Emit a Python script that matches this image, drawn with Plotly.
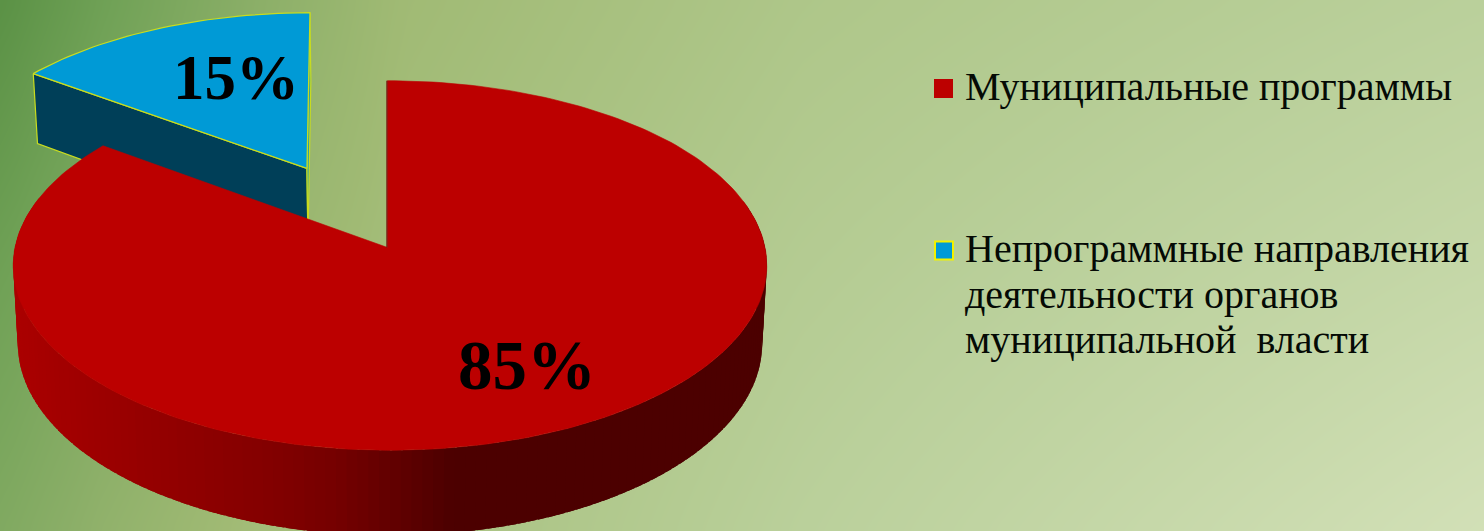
import numpy as np
import plotly.graph_objects as go

# ---- data ----
categories = ["Муниципальные программы", "Непрограммные направления деятельности органов муниципальной  власти"]
legend_lines = [["Муниципальные программы"],
                ["Непрограммные направления", "деятельности органов", "муниципальной  власти"]]
values = [85, 15]
value_labels = ["85%", "15%"]

# ---- style / projection ----
W, H = 1484, 531
CX, CY = 387.5, 247.5
RX, A, K = 375.0, 183.0, 0.0973   # perspective pie projection
DEPTH, SHRINK = 77.0, 0.988
EXPLODE = 0.503
RED, BLUE = "#BC0000", "#009AD6"
BLUE_SIDE = "#003F58"
EDGE = "#C9DC1E"
FONT = "Liberation Serif"


def project(X, Y, bottom=False):
    X, Y = np.asarray(X, float), np.asarray(Y, float)
    s = 1.0 / (1.0 + K * Y)
    px, py = RX * X * s, -A * Y * s
    if bottom:
        return CX + px * SHRINK, CY + py + DEPTH * s
    return CX + px, CY + py


def project_red(X, Y, bottom=False):
    x, y = project(X, Y, bottom)
    r = np.hypot(X, Y)
    # the rim sits slightly right of the apex
    return x + 2.5 * np.clip((1 - np.asarray(Y, float)) / 0.4, 0, 1) * (r > 0.5), y


def project_blue(X, Y, bottom=False):
    x, y = project(X, Y, bottom)
    d = np.asarray(Y, float) - 0.45
    return x + 1.5 - 4.0 * d, y - 0.5 - 2.0 * d


def rim(a0, a1, n, dx=0.0, dy=0.0):
    t = np.radians(np.linspace(a0, a1, n))
    return np.sin(t) + dx, np.cos(t) + dy


sweep_red = 360.0 * values[0] / sum(values)
sweep_blue = 360.0 * values[1] / sum(values)

fig = go.Figure()

# background gradient: sampled brightness table
bg_xs = [0, 100, 250, 400, 800, 1484]
bg_ys = [0, 265, 531]
bg_rows = [[90, 112, 140, 160, 174, 186],
           [112, 130, 152, 165, 180, 197],
           [130, 146, 163, 168, 186, 210]]
gx = np.linspace(-20, W + 20, 90)
gy = np.linspace(-20, H + 20, 40)
row_z = np.array([np.interp(gx, bg_xs, r) for r in bg_rows])
bg = np.array([[np.interp(y, bg_ys, row_z[:, j]) for j in range(len(gx))] for y in gy])
stops = [(90, "#5A9145"), (115, "#71A257"), (140, "#8AAE67"), (160, "#A0BA74"),
         (176, "#B0C88C"), (186, "#BAD09B"), (198, "#C6D8A9"), (210, "#D2E0B7")]
fig.add_trace(go.Heatmap(x=gx, y=gy, z=bg, zmin=90, zmax=210, zsmooth="best", showscale=False,
                         colorscale=[[(d - 90) / 120, c] for d, c in stops], hoverinfo="skip"))

# exploded slice (drawn first, the big slice overlaps it)
mid = np.radians(-sweep_blue / 2)
ex, ey = EXPLODE * np.sin(mid), EXPLODE * np.cos(mid)
bx, by = rim(-sweep_blue, 0, 40, ex, ey)
for wall_X, wall_Y, col in [([bx[0], ex], [by[0], ey], BLUE_SIDE),
                            ([ex, bx[-1]], [ey, by[-1]], "#2E9FA8")]:
    tx, ty = project_blue(wall_X, wall_Y)
    lx, ly = project_blue(wall_X, wall_Y, bottom=True)
    fig.add_trace(go.Scatter(x=[tx[0], tx[1], lx[1], lx[0], tx[0]], y=[ty[0], ty[1], ly[1], ly[0], ty[0]],
                             fill="toself", fillcolor=col, mode="lines",
                             line=dict(color=EDGE, width=1.2), hoverinfo="skip"))
# top face
fx, fy = project_blue(np.r_[ex, bx, ex], np.r_[ey, by, ey])
fig.add_trace(go.Scatter(x=fx, y=fy, fill="toself", fillcolor=BLUE, mode="lines",
                         line=dict(color=EDGE, width=1.2), hoverinfo="skip"))

# side of big slice, graded strip by strip (each strip overlaps the next)
side_x = [12, 60, 130, 250, 330, 400, 450, 780]
side_r = [172, 163, 152, 134, 118, 94, 76, 76]
edges = np.arange(0, sweep_red + 0.01, 1.5)
for a0, a1 in zip(edges[:-1], edges[1:]):
    if np.cos(np.radians((a0 + a1) / 2)) > 0.25:
        continue
    qx, qy = rim(a0, min(a1 + 1.2, sweep_red), 2)
    ux, uy = project_red(qx, qy)
    dx, dy = project_red(qx, qy, bottom=True)
    xm = (ux.mean() + dx.mean()) / 2
    col = "rgb(%d,0,0)" % np.interp(xm, side_x, side_r)
    fig.add_trace(go.Scatter(x=[ux[0], ux[1], dx[1], dx[0], ux[0]], y=[uy[0], uy[1], dy[1], dy[0], uy[0]],
                             fill="toself", fillcolor=col, mode="lines",
                             line=dict(width=0), hoverinfo="skip"))

# top of big slice
rx, ry = rim(0, sweep_red, 240)
fx, fy = project_red(np.r_[0, rx, 0], np.r_[0, ry, 0])
fig.add_trace(go.Scatter(x=fx, y=fy, fill="toself", fillcolor=RED, mode="lines",
                         line=dict(color=RED, width=0.6), hoverinfo="skip"))
# dark sliver of the inner wall
sx, sy = project([0, 0], [1, 0])
fig.add_trace(go.Scatter(x=sx - 0.6, y=sy, mode="lines", line=dict(color="#6A0000", width=1), hoverinfo="skip"))

# legend swatches
fig.add_trace(go.Scatter(x=[943.5], y=[88.5], mode="markers", hoverinfo="skip",
                         marker=dict(symbol="square", size=19, color=RED, line=dict(width=0))))
fig.add_trace(go.Scatter(x=[944], y=[250.5], mode="markers", hoverinfo="skip",
                         marker=dict(symbol="square", size=18, color=BLUE, line=dict(width=2, color="#F2F200"))))

annotations = [
    dict(x=527, y=366, text=value_labels[0], font=dict(family=FONT, size=69, color="black", weight="bold")),
    dict(x=236, y=78, text=value_labels[1], font=dict(family=FONT, size=63, color="black", weight="bold")),
]
legend_y = [[86, ], [248, 294, 339]]
for lines, ys in zip(legend_lines, legend_y):
    for line, y in zip(lines, ys):
        annotations.append(dict(x=963, y=y, text=line, xanchor="left",
                                font=dict(family=FONT, size=40, color="#050A05")))
for a in annotations:
    a.update(showarrow=False, xref="x", yref="y")
    a.setdefault("xanchor", "center")
    a.setdefault("yanchor", "middle")

fig.update_layout(width=W, height=H, margin=dict(l=0, r=0, t=0, b=0), showlegend=False,
                  paper_bgcolor="#B0C88C", plot_bgcolor="#B0C88C", annotations=annotations,
                  xaxis=dict(range=[0, W], visible=False, fixedrange=True),
                  yaxis=dict(range=[H, 0], visible=False, fixedrange=True))

fig.write_html("out.html", config=dict(displayModeBar=False),
               post_script="document.body.style.margin='0';document.documentElement.style.overflow='hidden';")
